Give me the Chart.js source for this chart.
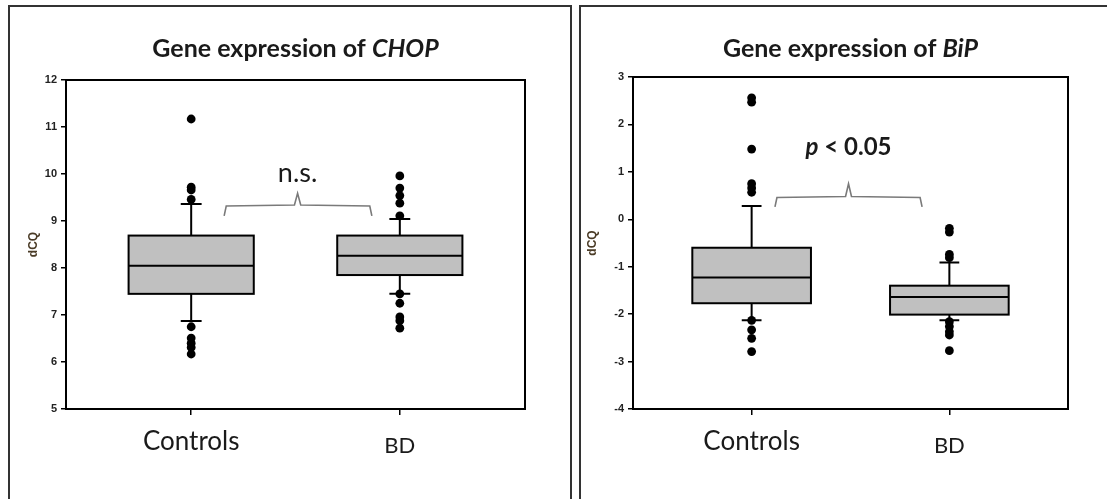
<!DOCTYPE html>
<html>
<head>
<meta charset="utf-8">
<script src="https://cdn.jsdelivr.net/npm/chart.js@4.4.0/dist/chart.umd.min.js"></script>
<style>
    body { margin: 0; background: #fff; width: 1107px; height: 499px; overflow: hidden; position: relative; }
    .frame { position: absolute; top: 5px; height: 600px; border: 2px solid #333; box-sizing: border-box; }
    canvas { position: absolute; top: 0; }
</style>
</head>
<body>
<div class="frame" style="left:8px;width:564px"></div>
<div class="frame" style="left:579px;width:600px"></div>
<canvas id="chopChart" width="575" height="499" style="left:0"></canvas>
<canvas id="bipChart" width="532" height="499" style="left:575px"></canvas>
<script>
// Categories
const groups = ['Controls', 'BD'];

// CHOP (dCQ)
const chopLow = [6.87, 7.45];
const chopQ1 = [7.45, 7.85];
const chopMedian = [8.05, 8.26];
const chopQ3 = [8.69, 8.69];
const chopHigh = [9.36, 9.04];
const chopOutControls = [11.17, 9.72, 9.66, 9.46, 6.75, 6.51, 6.40, 6.31, 6.17];
const chopOutBD = [9.96, 9.70, 9.54, 9.38, 9.11, 7.45, 7.25, 6.96, 6.88, 6.72];
const chopYRange = [5, 12];

// BiP (dCQ)
const bipLow = [-2.13, -2.13];
const bipQ1 = [-1.77, -2.01];
const bipMedian = [-1.23, -1.64];
const bipQ3 = [-0.60, -1.40];
const bipHigh = [0.28, -0.91];
const bipOutControls = [2.56, 2.47, 1.48, 0.75, 0.66, 0.57, -2.13, -2.33, -2.51, -2.79];
const bipOutBD = [-0.19, -0.27, -0.74, -0.81, -2.16, -2.26, -2.37, -2.44, -2.77];
const bipYRange = [-4, 3];

// Significance brackets
const chopBracketX = [0.158, 0.168, 0.495, 0.510, 0.525, 0.856, 0.866];
const chopBracketY = [9.11, 9.32, 9.34, 9.59, 9.34, 9.32, 9.11];
const bipBracketX = [0.118, 0.128, 0.475, 0.490, 0.505, 0.852, 0.862];
const bipBracketY = [0.26, 0.46, 0.48, 0.75, 0.48, 0.46, 0.26];

const BOX_HALF = 0.3;
const CAP_HALF = 0.05;

function boxPlugin(p) {
    return {
        id: 'boxes',
        beforeDatasetsDraw(chart) {
            const { ctx, scales: { x, y } } = chart;
            ctx.save();
            ctx.strokeStyle = '#000';
            ctx.lineWidth = 2;
            groups.forEach((g, i) => {
                const cx = x.getPixelForValue(i);
                const l = x.getPixelForValue(i - BOX_HALF), r = x.getPixelForValue(i + BOX_HALF);
                const cl = x.getPixelForValue(i - CAP_HALF), cr = x.getPixelForValue(i + CAP_HALF);
                const yLo = y.getPixelForValue(p.low[i]), yHi = y.getPixelForValue(p.high[i]);
                const y1 = y.getPixelForValue(p.q1[i]), y3 = y.getPixelForValue(p.q3[i]);
                const ym = y.getPixelForValue(p.median[i]);
                ctx.beginPath();
                ctx.moveTo(cx, y3); ctx.lineTo(cx, yHi);
                ctx.moveTo(cl, yHi); ctx.lineTo(cr, yHi);
                ctx.moveTo(cx, y1); ctx.lineTo(cx, yLo);
                ctx.moveTo(cl, yLo); ctx.lineTo(cr, yLo);
                ctx.stroke();
                ctx.fillStyle = '#c0c0c0';
                ctx.fillRect(l, y3, r - l, y1 - y3);
                ctx.strokeRect(l, y3, r - l, y1 - y3);
                ctx.beginPath();
                ctx.moveTo(l, ym); ctx.lineTo(r, ym);
                ctx.stroke();
            });
            ctx.restore();
        },
        afterDraw(chart) {
            const { ctx, chartArea: a, scales: { x, y } } = chart;
            ctx.save();
            ctx.strokeStyle = '#000';
            ctx.lineWidth = 2;
            ctx.strokeRect(a.left, a.top, a.width, a.height);

            // title with italic gene name
            ctx.fillStyle = '#1a1a1a';
            ctx.textBaseline = 'alphabetic';
            ctx.font = 'bold 25px Lato';
            const w1 = ctx.measureText(p.title[0]).width;
            ctx.font = 'italic bold 25px Lato';
            const w2 = ctx.measureText(p.title[1]).width;
            let sx = (a.left + a.right) / 2 - (w1 + w2) / 2;
            ctx.font = 'bold 25px Lato';
            ctx.fillText(p.title[0], sx, 57);
            ctx.font = 'italic bold 25px Lato';
            ctx.fillText(p.title[1], sx + w1, 57);

            // significance label
            const tx = x.getPixelForValue(p.labelAt[0]), ty = y.getPixelForValue(p.labelAt[1]);
            let widths = p.label.map(s => { ctx.font = s.font; return ctx.measureText(s.text).width; });
            let lx = tx - widths.reduce((s, w) => s + w, 0) / 2;
            p.label.forEach((s, i) => {
                ctx.font = s.font;
                ctx.fillText(s.text, lx, ty);
                lx += widths[i];
            });
            ctx.restore();
        }
    };
}

function makeChart(id, p) {
    const outliers = [];
    p.out.forEach((vals, i) => vals.forEach(v => outliers.push({ x: i, y: v })));
    const bracket = p.bracketX.map((bx, i) => ({ x: bx, y: p.bracketY[i] }));
    return new Chart(document.getElementById(id), {
        type: 'scatter',
        data: {
            datasets: [
                { data: outliers, pointRadius: 4.4, backgroundColor: '#000', borderWidth: 0, pointHoverRadius: 4.4 },
                { type: 'line', data: bracket, borderColor: '#7a7a7a', borderWidth: 1.6, pointRadius: 0, tension: 0, fill: false }
            ]
        },
        options: {
            responsive: false,
            animation: false,
            layout: { padding: p.pad },
            plugins: { legend: { display: false }, tooltip: { enabled: false } },
            scales: {
                x: {
                    type: 'linear', min: -0.6, max: 1.6,
                    afterBuildTicks: s => { s.ticks = groups.map((g, i) => ({ value: i })); },
                    afterFit: s => { s.height = 60; },
                    border: { display: false },
                    grid: { drawOnChartArea: false, tickLength: 6, color: '#000', lineWidth: 1.5 },
                    ticks: {
                        padding: 11,
                        color: '#1a1a1a',
                        callback: v => groups[v],
                        font: c => c.index === 0
                            ? { family: 'Lato', size: 26, lineHeight: 1.2 }
                            : { family: 'Lato', size: 22, lineHeight: 1.8 }
                    }
                },
                y: {
                    min: p.yRange[0], max: p.yRange[1],
                    afterFit: s => { s.width = p.yw; },
                    border: { display: false },
                    grid: { drawOnChartArea: false, tickLength: 5, color: '#000', lineWidth: 1.5 },
                    ticks: { stepSize: 1, padding: 4, color: '#222', font: { family: 'Liberation Sans', size: 11, weight: 'bold' } },
                    title: { display: true, text: 'dCQ', color: '#4a3b26', padding: { top: 0, bottom: 0 },
                             font: { family: 'Liberation Sans', size: 12, weight: 'bold' } }
                }
            }
        },
        plugins: [boxPlugin(p)]
    });
}

makeChart('chopChart', {
    low: chopLow, q1: chopQ1, median: chopMedian, q3: chopQ3, high: chopHigh,
    out: [chopOutControls, chopOutBD], yRange: chopYRange,
    bracketX: chopBracketX, bracketY: chopBracketY,
    title: ['Gene expression of ', 'CHOP'],
    label: [{ text: 'n.s.', font: '27px Lato' }], labelAt: [0.51, 9.82],
    yw: 40, pad: { left: 26, right: 50, top: 80, bottom: 30 }
});

makeChart('bipChart', {
    low: bipLow, q1: bipQ1, median: bipMedian, q3: bipQ3, high: bipHigh,
    out: [bipOutControls, bipOutBD], yRange: bipYRange,
    bracketX: bipBracketX, bracketY: bipBracketY,
    title: ['Gene expression of ', 'BiP'],
    label: [{ text: 'p', font: 'italic bold 24px Lato' }, { text: ' < 0.05', font: 'bold 24px Lato' }], labelAt: [0.49, 1.35],
    yw: 48, pad: { left: 10, right: 39, top: 77, bottom: 30 }
});
</script>
</body>
</html>
